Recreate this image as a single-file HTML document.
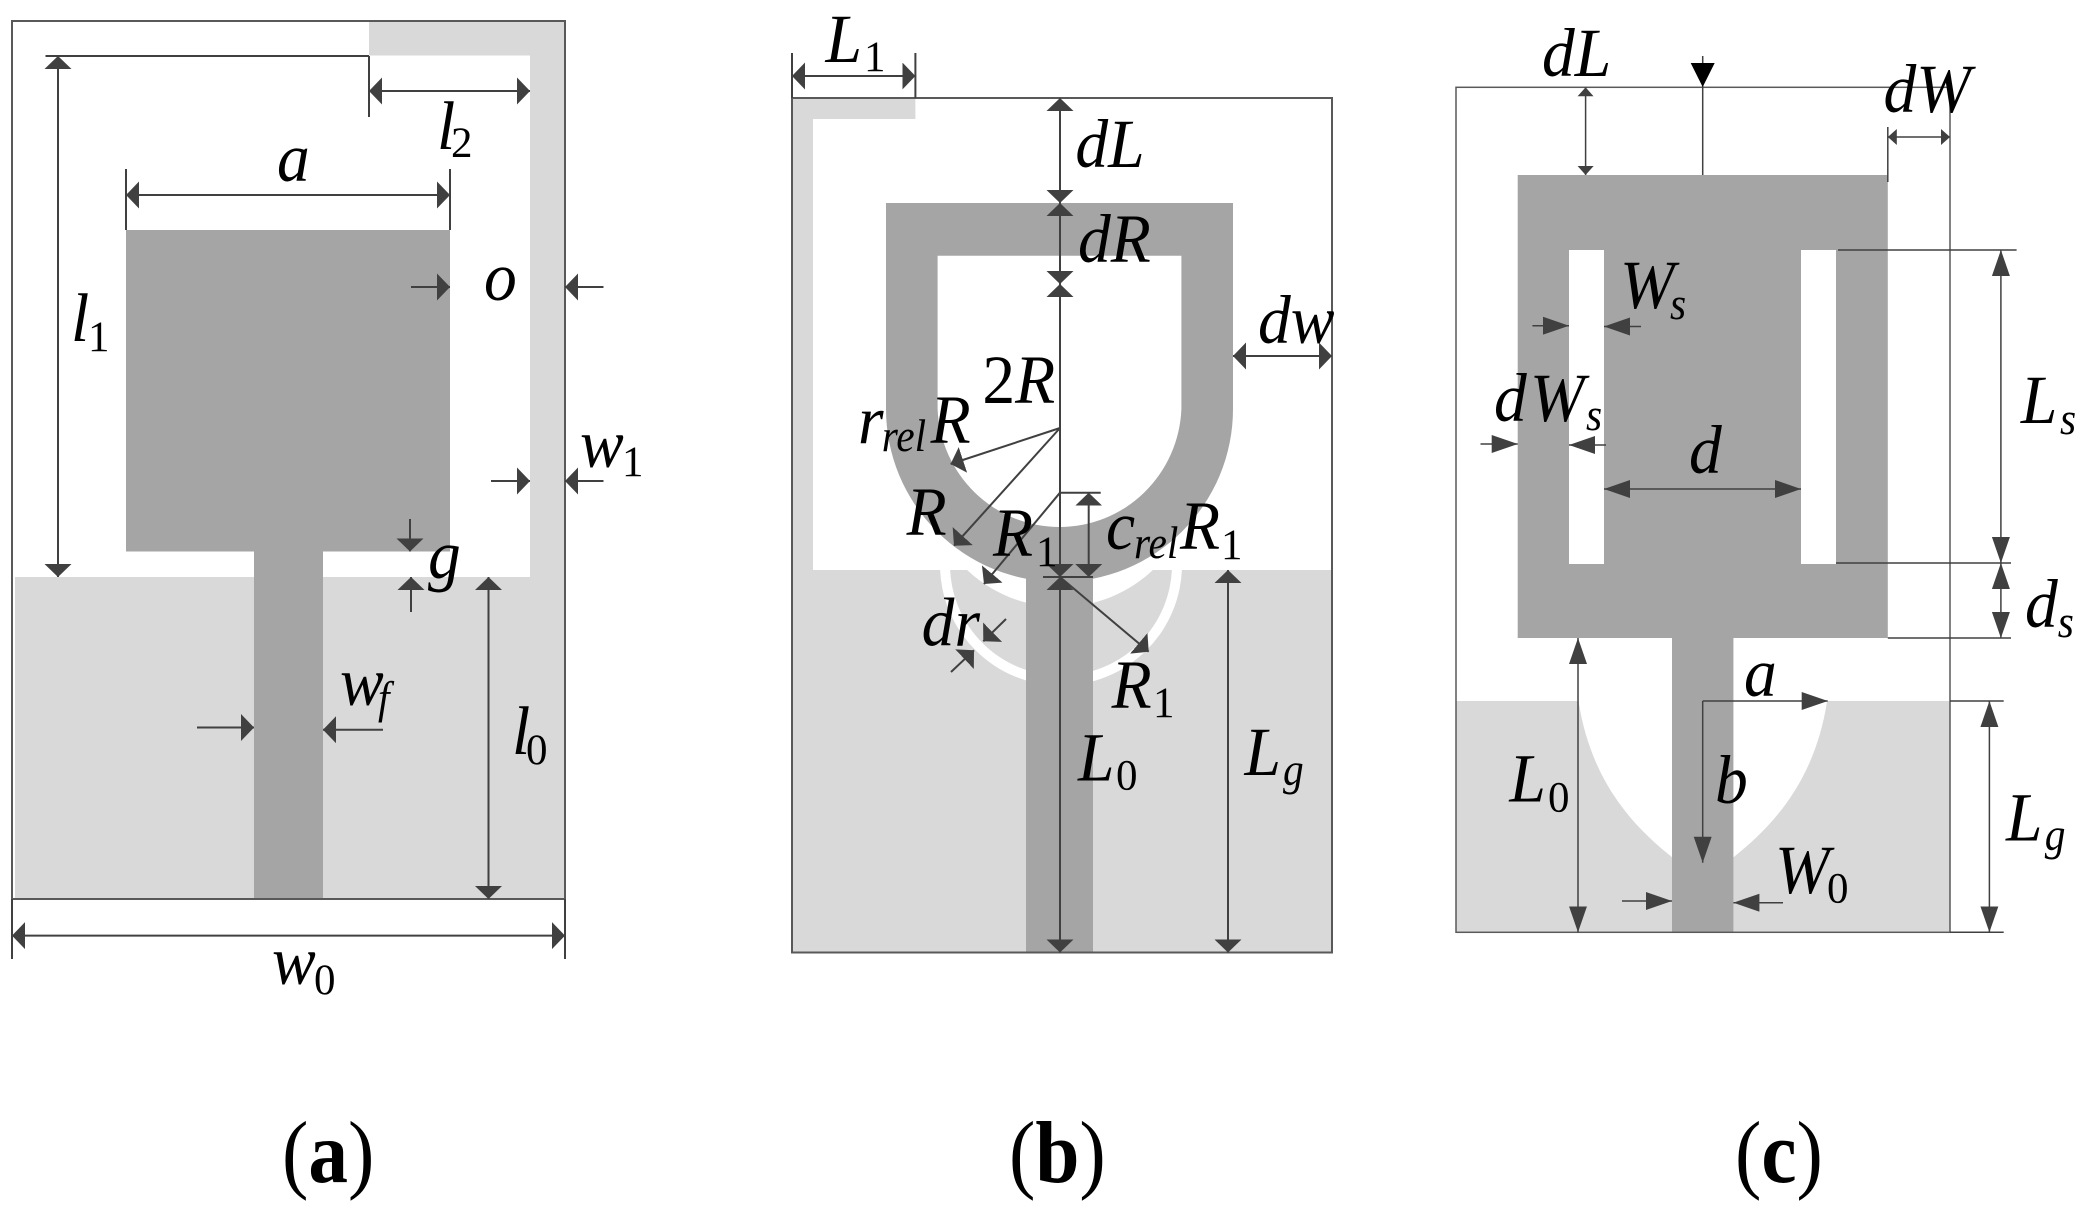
<!DOCTYPE html>
<html>
<head>
<meta charset="utf-8">
<style>
html,body{margin:0;padding:0;background:#fff;width:2098px;height:1214px;overflow:hidden}
svg{display:block}
text{font-family:"Liberation Serif",serif;fill:#000}
.t{font-style:italic;font-size:69px;transform-box:fill-box;transform-origin:0 0;transform:scaleX(.95)}
.s{font-style:italic;font-size:46px;transform-box:fill-box;transform-origin:0 0;transform:scaleX(.9)}
.n{font-size:43px}
.c{font-size:88px;transform-box:fill-box;transform-origin:0 0;transform:scaleX(.9)}
.l{stroke:#404040;stroke-width:2;fill:none}
.f{stroke:#595959;stroke-width:2;fill:none}
.A{marker-end:url(#A)}
.AA{marker-start:url(#A);marker-end:url(#A)}
.B{marker-end:url(#B)}
.BB{marker-start:url(#B);marker-end:url(#B)}
.C{marker-end:url(#C)}
.CC{marker-start:url(#C);marker-end:url(#C)}
</style>
</head>
<body>
<svg width="2098" height="1214" viewBox="0 0 2098 1214" xmlns="http://www.w3.org/2000/svg">
<defs>
<marker id="A" markerUnits="userSpaceOnUse" markerWidth="13" markerHeight="27" refX="13" refY="13.5" orient="auto-start-reverse"><path d="M0,0L13,13.5L0,27Z" fill="#404040"/></marker>
<marker id="B" markerUnits="userSpaceOnUse" markerWidth="9" markerHeight="16" refX="9" refY="8" orient="auto-start-reverse"><path d="M0,0L9,8L0,16Z" fill="#404040"/></marker>
<marker id="C" markerUnits="userSpaceOnUse" markerWidth="26" markerHeight="18" refX="26" refY="9" orient="auto-start-reverse"><path d="M0,0L26,9L0,18Z" fill="#404040"/></marker>
<clipPath id="gb"><rect x="792" y="570" width="540" height="383"/></clipPath>
</defs>

<!-- Panel a -->
<rect x="369" y="21" width="196" height="34.5" fill="#d9d9d9"/>
<rect x="530" y="21" width="35" height="878" fill="#d9d9d9"/>
<rect x="15" y="577" width="515" height="322" fill="#d9d9d9"/>
<rect x="126" y="230" width="324" height="321.5" fill="#a5a5a5"/>
<rect x="254" y="551" width="69" height="348" fill="#a5a5a5"/>
<rect x="12" y="21" width="553" height="878" class="f"/>
<path class="l" d="M45.5,56H369M369,56V117M126,169V230M450,169V230M12,899V959M565,899V959"/>
<line class="l AA" x1="58" y1="56" x2="58" y2="577"/>
<line class="l AA" x1="369" y1="91" x2="530" y2="91"/>
<line class="l AA" x1="126" y1="195" x2="450" y2="195"/>
<line class="l A" x1="411" y1="287" x2="450" y2="287"/>
<line class="l A" x1="603.5" y1="287" x2="565" y2="287"/>
<line class="l A" x1="491" y1="481" x2="530" y2="481"/>
<line class="l A" x1="603.5" y1="481" x2="565" y2="481"/>
<line class="l A" x1="410" y1="519" x2="410" y2="551.5"/>
<line class="l A" x1="411" y1="612" x2="411" y2="577"/>
<line class="l AA" x1="488.5" y1="577" x2="488.5" y2="899"/>
<line class="l A" x1="197" y1="727.5" x2="254" y2="727.5"/>
<line class="l A" x1="383" y1="729.7" x2="323" y2="729.7"/>
<line class="l AA" x1="12" y1="935.6" x2="565" y2="935.6"/>
<text class="t" x="277" y="181">a</text>
<text class="t" x="71" y="341">l</text><text class="n" x="88" y="351">1</text>
<text class="t" x="437" y="149">l</text><text class="n" x="451" y="157">2</text>
<text class="t" x="484" y="300">o</text>
<text class="t" x="580" y="467">w</text><text class="n" x="622" y="476">1</text>
<text class="t" x="428" y="578">g</text>
<text class="t" x="340" y="705">w</text><text class="s" x="378" y="713">f</text>
<text class="t" x="512" y="754">l</text><text class="n" x="526" y="764">0</text>
<text class="t" x="272" y="984">w</text><text class="n" x="314" y="994">0</text>
<text class="c" x="282" y="1182">(<tspan font-weight="bold">a</tspan>)</text>

<!-- Panel b -->
<rect x="792" y="98" width="123.4" height="21" fill="#d9d9d9"/>
<rect x="792" y="98" width="21" height="472" fill="#d9d9d9"/>
<rect x="792" y="570" width="540" height="382.5" fill="#d9d9d9"/>
<g clip-path="url(#gb)">
<circle cx="1061" cy="564.6" r="121" fill="#fff"/>
<circle cx="1061" cy="564.6" r="111" fill="#d9d9d9"/>
<circle cx="1060" cy="472" r="135" fill="#fff"/>
</g>
<rect x="1026" y="570" width="67" height="382.5" fill="#a5a5a5"/>
<path fill-rule="evenodd" fill="#a5a5a5" d="M886,203H1233V409A173.5,173,0,0,1,886,409ZM937.6,255.7V409A122,123,0,0,0,1181.4,409V255.7Z"/>
<rect x="792" y="98" width="540" height="854.5" class="f"/>
<path class="l" d="M792,53V98M915.4,53V98M1060,492.7H1100.7M1043,577H1093"/>
<line class="l AA" x1="792" y1="76" x2="915.4" y2="76"/>
<line class="l AA" x1="1060" y1="98" x2="1060" y2="203"/>
<line class="l AA" x1="1060" y1="203" x2="1060" y2="284"/>
<line class="l AA" x1="1060" y1="284" x2="1060" y2="577"/>
<line class="l AA" x1="1060" y1="577" x2="1060" y2="952.5"/>
<line class="l AA" x1="1233" y1="356" x2="1332" y2="356"/>
<line class="l A" x1="1060" y1="428" x2="950.6" y2="464"/>
<line class="l A" x1="1060" y1="428" x2="954" y2="545.7"/>
<line class="l A" x1="1060" y1="492.7" x2="984" y2="584"/>
<line class="l AA" x1="1088.7" y1="492.7" x2="1088.7" y2="577"/>
<line class="l A" x1="1060" y1="577" x2="1148.7" y2="651.7"/>
<line class="l A" x1="1006" y1="619" x2="983.3" y2="641.3"/>
<line class="l A" x1="951" y1="672" x2="974" y2="650.3"/>
<line class="l AA" x1="1228" y1="570" x2="1228" y2="952.5"/>
<text class="t" x="825.5" y="62">L</text><text class="n" x="864" y="71">1</text>
<text class="t" x="1075.4" y="167">dL</text>
<text class="t" x="1078" y="262">dR</text>
<text class="t" x="1258" y="343">dw</text>
<text class="t" x="982.4" y="403"><tspan font-style="normal">2</tspan>R</text>
<text class="t" x="858" y="443">r</text><text class="s" x="881.7" y="451">rel</text><text class="t" x="930.7" y="443">R</text>
<text class="t" x="906.7" y="535">R</text>
<text class="t" x="993" y="556">R</text><text class="n" x="1036" y="566">1</text>
<text class="t" x="1106" y="549">c</text><text class="s" x="1134" y="558">rel</text><text class="t" x="1180" y="549">R</text><text class="n" x="1221" y="559">1</text>
<text class="t" x="921.7" y="645.7">dr</text>
<text class="t" x="1111.7" y="708">R</text><text class="n" x="1153" y="717">1</text>
<text class="t" x="1078" y="780.7">L</text><text class="n" x="1116" y="789.6">0</text>
<text class="t" x="1244.5" y="775">L</text><text class="s" x="1283" y="785">g</text>
<text class="c" x="1009" y="1182">(<tspan font-weight="bold">b</tspan>)</text>

<!-- Panel c -->
<rect x="1456" y="701" width="494" height="231.3" fill="#d9d9d9"/>
<path fill="#fff" d="M1827.1,701C1814.8,781 1772.8,826 1733.8,857L1671.8,857C1632.8,826 1590.8,781 1578.5,701Z"/>
<path fill-rule="evenodd" fill="#a5a5a5" d="M1517.7,175H1887.8V638H1517.7ZM1569,250V564H1604V250ZM1801,250V564H1836V250Z"/>
<rect x="1672" y="638" width="61.4" height="294.3" fill="#a5a5a5"/>
<g style="stroke:#595959;stroke-width:1.5;fill:none"><rect x="1456" y="87.3" width="494" height="845"/></g>
<path class="l" style="stroke-width:1.5" d="M1887.8,127V182M1838,250H2016.6M1836,563H2011M1887.8,638H2011M1950,701H2003.7M1950,932.3H2003.7"/>
<line class="l" style="stroke-width:1.5" x1="1702.7" y1="56" x2="1702.7" y2="175"/>
<path d="M1690.7,63H1714.7L1702.7,87Z" fill="#000"/>
<line class="l BB" style="stroke-width:1.5" x1="1585.6" y1="87.3" x2="1585.6" y2="175"/>
<line class="l BB" style="stroke-width:1.5" x1="1887.8" y1="137" x2="1950" y2="137"/>
<line class="l CC" style="stroke-width:1.5" x1="2000.9" y1="250" x2="2000.9" y2="563"/>
<line class="l CC" style="stroke-width:1.5" x1="2000.9" y1="563" x2="2000.9" y2="638"/>
<line class="l CC" style="stroke-width:1.5" x1="1989.4" y1="701" x2="1989.4" y2="932.3"/>
<line class="l CC" style="stroke-width:1.5" x1="1578" y1="638" x2="1578" y2="932.3"/>
<line class="l C" style="stroke-width:1.5" x1="1702.7" y1="701" x2="1827.7" y2="701"/>
<line class="l C" style="stroke-width:1.5" x1="1702.7" y1="701" x2="1702.7" y2="862.7"/>
<line class="l C" style="stroke-width:1.5" x1="1622" y1="901" x2="1672" y2="901"/>
<line class="l C" style="stroke-width:1.5" x1="1783" y1="902.7" x2="1733.4" y2="902.7"/>
<line class="l C" style="stroke-width:1.5" x1="1532.4" y1="325.7" x2="1569" y2="325.7"/>
<line class="l C" style="stroke-width:1.5" x1="1641" y1="326.5" x2="1604" y2="326.5"/>
<line class="l C" style="stroke-width:1.5" x1="1480.5" y1="444" x2="1517.7" y2="444"/>
<line class="l C" style="stroke-width:1.5" x1="1606" y1="445" x2="1569" y2="445"/>
<line class="l CC" style="stroke-width:1.5" x1="1604" y1="489" x2="1801" y2="489"/>
<text class="t" x="1542" y="76">dL</text>
<text class="t" x="1883.5" y="112">dW</text>
<text class="t" x="1620" y="308">W</text><text class="s" x="1670" y="319">s</text>
<text class="t" x="1494" y="421">d</text><text class="t" x="1530" y="421">W</text><text class="s" x="1586" y="430">s</text>
<text class="t" x="1689" y="473">d</text>
<text class="t" x="2021" y="423">L</text><text class="s" x="2060" y="434">s</text>
<text class="t" x="2025" y="627">d</text><text class="s" x="2057.7" y="637">s</text>
<text class="t" x="1744" y="696">a</text>
<text class="t" x="1715" y="803">b</text>
<text class="t" x="1509.5" y="801.7">L</text><text class="n" x="1548" y="811.7">0</text>
<text class="t" x="1775" y="893">W</text><text class="n" x="1827" y="902.7">0</text>
<text class="t" x="2006" y="840.7">L</text><text class="s" x="2044.7" y="850">g</text>
<text class="c" x="1735" y="1182">(<tspan font-weight="bold">c</tspan>)</text>
</svg>
</body>
</html>
